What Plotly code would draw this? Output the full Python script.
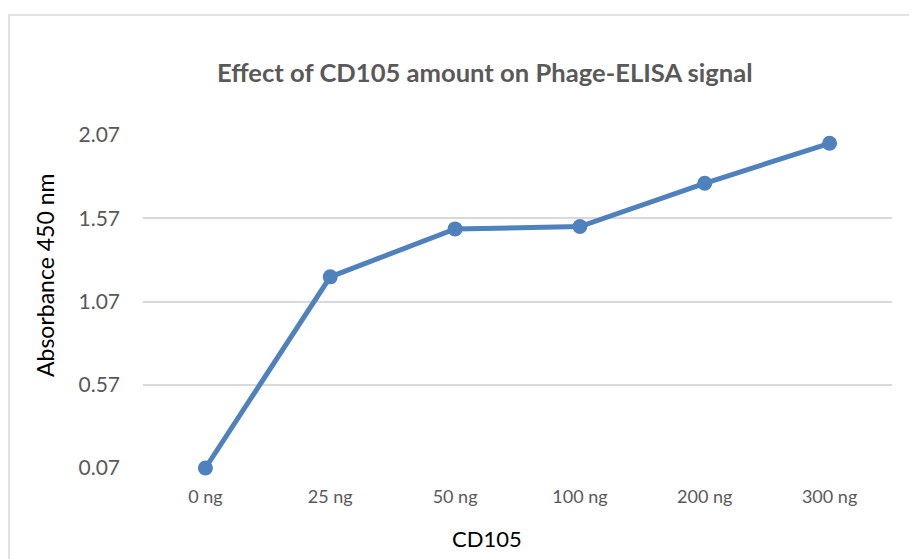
import plotly.graph_objects as go

# data
amounts = ["0 ng", "25 ng", "50 ng", "100 ng", "200 ng", "300 ng"]
absorbance = [0.07, 1.218, 1.506, 1.52, 1.78, 2.02]
y_ticks = [0.07, 0.57, 1.07, 1.57, 2.07]

# the page adds an 8px body margin, so lay out in screen pixels minus that
OFF = 8
W, H = 917 - OFF, 559 - OFF
L, R, T, B = 143 - OFF, 25, 135 - OFF, 91
pw, ph = W - L - R, H - T - B


def px(xp):
    return (xp - OFF - L) / pw


def py(yp):
    return (H - B - (yp - OFF)) / ph


fig = go.Figure(
    go.Scatter(
        x=amounts,
        y=absorbance,
        mode="lines+markers",
        line=dict(color="#4F81BD", width=5),
        marker=dict(color="#4F81BD", size=15),
        cliponaxis=False,
        hoverinfo="x+y",
    )
)

fig.update_xaxes(
    type="category",
    range=[-0.5, 5.5],
    showgrid=False,
    showline=False,
    zeroline=False,
    ticks="",
    ticklabelstandoff=16,
    tickfont=dict(family="Lato", size=18, color="#595959"),
)
fig.update_yaxes(
    range=[0.07, 2.07],
    tickvals=y_ticks,
    ticktext=[f"{v:.2f}" for v in y_ticks],
    showgrid=True,
    gridcolor="#d9d9d9",
    gridwidth=1.5,
    zeroline=False,
    showline=False,
    ticks="",
    ticklabelstandoff=22,
    tickfont=dict(family="Lato", size=21, color="#595959"),
)

# chart border
fig.add_shape(
    type="rect", xref="paper", yref="paper",
    x0=px(9), x1=px(940), y0=py(600), y1=py(15),
    line=dict(color="#d9d9d9", width=1.5), layer="below",
)

fig.add_annotation(
    text="<b>Effect of CD105 amount on Phage-ELISA signal</b>",
    xref="paper", yref="paper", x=px(485), y=py(72),
    xanchor="center", yanchor="middle",
    showarrow=False, font=dict(family="Lato", size=25.6, color="#595959"),
)
fig.add_annotation(
    text="Absorbance 450 nm",
    xref="paper", yref="paper", x=px(45), y=py(276),
    xanchor="center", yanchor="middle",
    textangle=-90, showarrow=False,
    font=dict(family="Lato", size=23, color="#000000"),
)
fig.add_annotation(
    text="CD105",
    xref="paper", yref="paper", x=px(487), y=py(538),
    xanchor="center", yanchor="middle",
    showarrow=False, font=dict(family="Lato", size=22, color="#000000"),
)

fig.update_layout(
    width=W,
    height=H,
    margin=dict(l=L, r=R, t=T, b=B),
    plot_bgcolor="white",
    paper_bgcolor="white",
    showlegend=False,
)

fig.write_html("out.html")
